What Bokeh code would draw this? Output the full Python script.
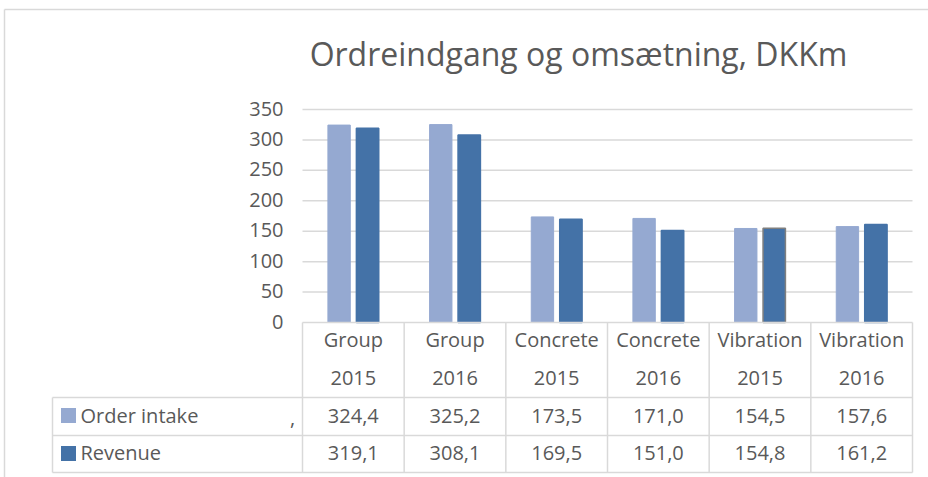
from bokeh.plotting import figure
from bokeh.models import ColumnDataSource, Range1d
from bokeh.core.properties import value
from bokeh.embed import file_html
from bokeh.resources import INLINE

# ---------------- data ----------------
title_text = "Ordreindgang og omsætning, DKKm"
cat_line1 = ["Group", "Group", "Concrete", "Concrete", "Vibration", "Vibration"]
cat_line2 = ["2015", "2016", "2015", "2016", "2015", "2016"]
series_names = ["Order intake", "Revenue"]
order_intake = [324.4, 325.2, 173.5, 171.0, 154.5, 157.6]
revenue = [319.1, 308.1, 169.5, 151.0, 154.8, 161.2]
y_ticks = [0, 50, 100, 150, 200, 250, 300, 350]

# ---------------- styles ----------------
LIGHT = "#95A9D1"
DARK = "#4472A7"
revenue_outline = [DARK, DARK, DARK, DARK, "#7F7F7F", DARK]
GRID = "#D9D9D9"
TXT = "#595959"
FONT = "Open Sans"

# ---------------- geometry (page pixels -> data) ----------------
PX = 101.667          # px per category
PY = 213.0 / 350.0    # px per value unit
W, H = 928, 477
OX, OY = 0, 0         # observed page offset of the figure
X0_PAGE, Y0_PAGE = 302, 322   # page position of (x=0, y=0)
n = len(cat_line1)

def fx(page_x):
    return (page_x - X0_PAGE) / PX

def fy(page_y):
    return (Y0_PAGE - page_y) / PY

p = figure(width=W, height=H, output_backend="svg", toolbar_location=None,
           x_range=Range1d(fx(OX), fx(OX + W)), y_range=Range1d(fy(OY + H), fy(OY)),
           x_axis_location=None, y_axis_location=None,
           min_border_left=0, min_border_right=0, min_border_top=0, min_border_bottom=0)
p.xgrid.visible = False
p.ygrid.visible = False
p.outline_line_color = None
p.background_fill_color = "white"
p.border_fill_color = "white"

centers = [i + 0.5 for i in range(n)]
table_left = fx(52)
row_y = [0, fy(397), fy(435), fy(472)]

# outer chart border (top and left)
p.segment(x0=[fx(4), fx(4)], x1=[fx(OX + W), fx(4)],
          y0=[fy(9), fy(9)], y1=[fy(9), fy(OY + H)],
          line_color=GRID, line_width=1.5)

# gridlines
p.segment(x0=[0] * (len(y_ticks) - 1), x1=[n] * (len(y_ticks) - 1),
          y0=y_ticks[1:], y1=y_ticks[1:], line_color=GRID, line_width=1.5)

# y tick labels
p.text(x=[0] * len(y_ticks), y=y_ticks, text=[str(t) for t in y_ticks],
       text_align="right", text_baseline="middle", x_offset=-19, y_offset=-1,
       text_font=value(FONT), text_font_size="20px", text_color=TXT)

# bars
src_o = ColumnDataSource(dict(x=[c - 0.14 for c in centers], top=order_intake))
src_r = ColumnDataSource(dict(x=[c + 0.14 for c in centers], top=revenue, lc=revenue_outline))
p.vbar(x="x", top="top", bottom=0, width=0.22, source=src_o,
       fill_color=LIGHT, line_color=LIGHT, line_width=1)
p.vbar(x="x", top="top", bottom=0, width=0.22, source=src_r,
       fill_color=DARK, line_color="lc", line_width=1.5)

# table lines
p.segment(x0=[0, table_left, table_left, table_left],
          x1=[n, n, n, n],
          y0=row_y, y1=row_y, line_color=GRID, line_width=1.5)
p.segment(x0=list(range(n + 1)), x1=list(range(n + 1)),
          y0=[0] * (n + 1), y1=[row_y[3]] * (n + 1), line_color=GRID, line_width=1.5)
p.segment(x0=[table_left], x1=[table_left], y0=[row_y[1]], y1=[row_y[3]],
          line_color=GRID, line_width=1.5)

tstyle = dict(text_align="center", text_baseline="middle",
              text_font=value(FONT), text_font_size="20px", text_color=TXT)
# header
p.text(x=centers, y=[fy(339)] * n, text=cat_line1, **tstyle)
p.text(x=centers, y=[fy(377)] * n, text=cat_line2, **tstyle)
# values
fmt = lambda v: f"{v:.1f}".replace(".", ",")
p.text(x=centers, y=[fy(415)] * n, text=[fmt(v) for v in order_intake], **tstyle)
p.text(x=centers, y=[fy(452)] * n, text=[fmt(v) for v in revenue], **tstyle)

# legend keys in table
key_x = fx(68)
p.rect(x=[key_x, key_x], y=[fy(415), fy(453)], width=15, height=15,
       width_units="screen", height_units="screen",
       fill_color=[LIGHT, DARK], line_color=None)
p.text(x=[fx(80)] * 2, y=[fy(415), fy(452)], text=series_names,
       text_align="left", text_baseline="middle",
       text_font=value(FONT), text_font_size="20px", text_color=TXT)
p.text(x=[fx(292)], y=[fy(417)], text=[","],
       text_align="center", text_baseline="middle",
       text_font=value(FONT), text_font_size="20px", text_color=TXT)

# title
p.text(x=[fx(578)], y=[fy(53)], text=[title_text],
       text_align="center", text_baseline="middle",
       text_font=value(FONT), text_font_size="32px", text_color=TXT)

open("out.html", "w").write(file_html(p, INLINE))
